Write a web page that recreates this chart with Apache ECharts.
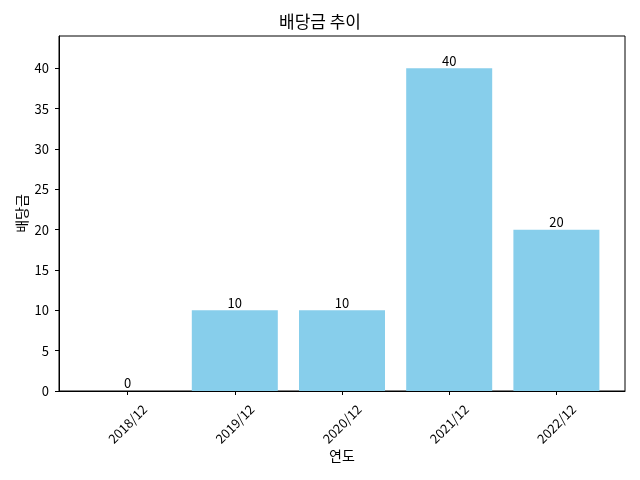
<!DOCTYPE html>
<html>
<head>
<meta charset="utf-8">
<script src="https://cdn.jsdelivr.net/npm/echarts@6/dist/echarts.min.js"></script>
<style>html,body{margin:0;padding:0;background:#fff}#c{width:640px;height:480px}</style>
</head>
<body>
<div id="c"></div>
<script>
const categories = ['2018/12', '2019/12', '2020/12', '2021/12', '2022/12'];
const dividends = [0, 10, 10, 40, 20];
const yTickValues = [0, 5, 10, 15, 20, 25, 30, 35, 40];
const xTickValues = [0, 1, 2, 3, 4];
const FONT = '"Noto Sans CJK KR", "Noto Sans", sans-serif';

const chart = echarts.init(document.getElementById('c'), null, {renderer: 'canvas'});
chart.setOption({
  animation: false,
  backgroundColor: '#fff',
  textStyle: {fontFamily: FONT},
  title: {
    text: '배당금 추이',
    left: 'center',
    top: 8,
    textStyle: {fontFamily: FONT, fontSize: 17, fontWeight: 'normal', color: '#000'}
  },
  grid: {left: 59, right: 15, top: 36, bottom: 89, show: true, borderColor: '#000', borderWidth: 1, containLabel: false},
  xAxis: {
    type: 'value',
    min: -0.64,
    max: 4.64,
    name: '연도',
    nameLocation: 'middle',
    nameGap: 58,
    nameMoveOverlap: false,
    nameTextStyle: {fontFamily: FONT, fontSize: 14, color: '#000'},
    axisLine: {show: true, onZero: false, lineStyle: {color: '#000', width: 1}},
    axisTick: {show: true, customValues: xTickValues, length: 4, lineStyle: {color: '#000'}},
    axisLabel: {
      customValues: xTickValues,
      formatter: v => categories[Math.round(v)] || '',
      rotate: 45,
      align: 'center',
      verticalAlign: 'middle',
      margin: 33,
      fontSize: 13,
      color: '#000',
      fontFamily: FONT
    },
    splitLine: {show: false}
  },
  yAxis: {
    type: 'value',
    min: 0,
    max: 44,
    name: '배당금',
    nameLocation: 'middle',
    nameGap: 30,
    nameMoveOverlap: false,
    nameTextStyle: {fontFamily: FONT, fontSize: 14, color: '#000'},
    axisLine: {show: true, onZero: false, lineStyle: {color: '#000', width: 1}},
    axisTick: {show: true, customValues: yTickValues, length: 4, lineStyle: {color: '#000'}},
    axisLabel: {customValues: yTickValues, margin: 10, fontSize: 13, color: '#000', fontFamily: FONT},
    splitLine: {show: false}
  },
  series: [{
    type: 'bar',
    data: dividends.map((v, i) => [i, v]),
    barWidth: 86,
    itemStyle: {color: '#87CEEB'},
    label: {show: true, position: 'top', distance: 1, color: '#000', fontSize: 13, fontFamily: FONT,
      formatter: p => String(p.value[1])}
  }]
});
</script>
</body>
</html>
